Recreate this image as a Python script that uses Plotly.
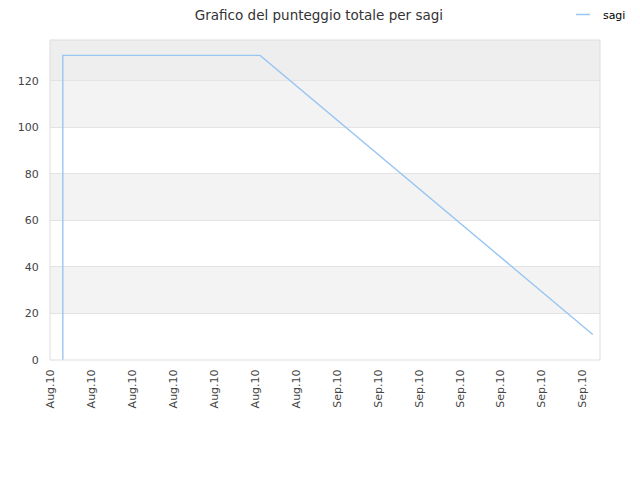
import plotly.graph_objects as go

# punteggio totale di sagi nel tempo
dates = ["2010-08-05 06:00", "2010-08-05 06:00", "2010-08-24 12:00", "2010-09-25 23:00"]
scores = [0, 131, 131, 11]

band_edges = [0, 20, 40, 60, 80, 100, 120, 137.6]
band_colors = ["#ffffff", "#f3f3f3", "#ffffff", "#f3f3f3", "#ffffff", "#f3f3f3", "#eeeeee"]

line_color = "#99c5f2"

fig = go.Figure()

fig.add_trace(go.Scatter(x=dates, y=scores, mode="lines", name="sagi", showlegend=False,
                         line=dict(color=line_color, width=1.4)))
# voce di legenda con trattino corto
fig.add_trace(go.Scatter(x=[None], y=[None], mode="markers", name="sagi",
                         marker=dict(symbol="line-ew-open", size=10, color=line_color,
                                     line=dict(color=line_color, width=1.5))))

shapes = []
for i in range(len(band_colors)):
    shapes.append(dict(type="rect", xref="paper", yref="y", x0=0, x1=1,
                       y0=band_edges[i], y1=band_edges[i + 1],
                       fillcolor=band_colors[i], line=dict(width=0), layer="below"))
shapes.append(dict(type="rect", xref="paper", yref="paper", x0=0, x1=1, y0=0, y1=1,
                   line=dict(color="#dddddd", width=1)))

# la pagina aggiunge 8px di margine: figura 632x472
fig.update_layout(
    width=632, height=472,
    margin=dict(l=42, r=40, t=32, b=120, autoexpand=False),
    paper_bgcolor="white", plot_bgcolor="white",
    font=dict(family="DejaVu Sans", size=11, color="#444444"),
    title=dict(text="Grafico del punteggio totale per sagi", x=0.492, xanchor="center",
               y=0.984, yanchor="middle", pad=dict(t=0, b=0),
               font=dict(size=13.5, color="#333333")),
    showlegend=True,
    legend=dict(x=0.878, xanchor="left", xref="container", y=1.125, yanchor="top",
                yref="paper", bgcolor="rgba(0,0,0,0)",
                font=dict(size=11, color="#000000")),
    shapes=shapes,
    xaxis=dict(type="date", range=["2010-08-04", "2010-09-26 16:00"],
               tick0="2010-08-04", dtick=4 * 86400000, tickformat="%b.%y",
               tickangle=-90, showgrid=False, zeroline=False,
               ticks="outside", ticklen=4, tickcolor="rgba(0,0,0,0)"),
    yaxis=dict(range=[0, 137.6], dtick=20, showgrid=True, gridcolor="#e3e3e3",
               zeroline=False, ticks="outside", ticklen=8, tickcolor="rgba(0,0,0,0)"),
)

fig.write_html("out.html", config={"displayModeBar": False})
